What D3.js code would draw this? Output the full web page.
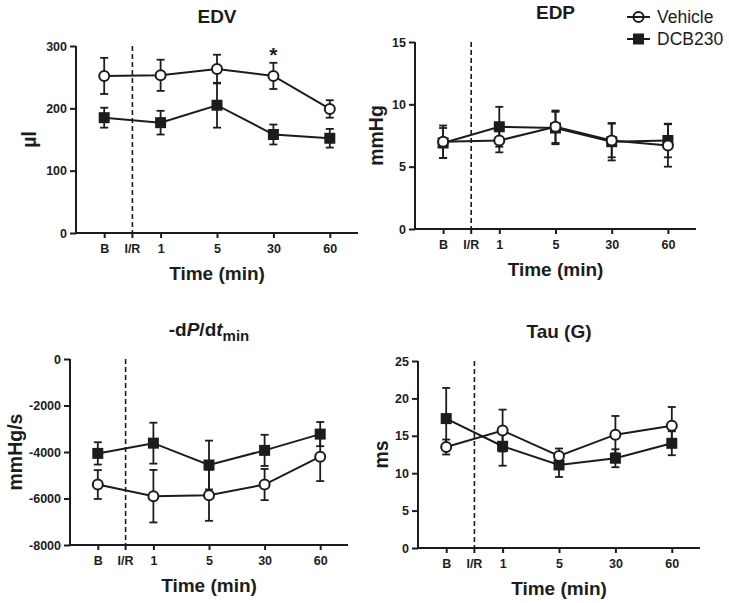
<!DOCTYPE html>
<html>
<head>
<meta charset="utf-8">
<script src="https://cdn.jsdelivr.net/npm/d3@7"></script>
<style>
  html, body { margin: 0; padding: 0; background: #fff; }
  svg { display: block; font-family: "Liberation Sans", Arial, Helvetica, sans-serif; }
</style>
</head>
<body>
<svg id="chart" width="729" height="603"></svg>
<script>
// ---------- data ----------
const timePoints = ["B", "1", "5", "30", "60"];
const irLabel = "I/R";
const seriesNames = ["Vehicle", "DCB230"];
const xTitle = "Time (min)";

const edvVehicle = [252, 253, 263, 252, 199];
const edvVehicleSem = [29, 25, 23, 21, 14];
const edvDcb = [185, 177, 205, 158, 152];
const edvDcbSem = [16, 19, 36, 16, 15];
const edvTicks = [0, 100, 200, 300];

const edpVehicle = [7.0, 7.1, 8.2, 7.1, 6.7];
const edpVehicleSem = [1.3, 0.95, 1.3, 1.35, 1.7];
const edpDcb = [6.9, 8.2, 8.1, 7.0, 7.1];
const edpDcbSem = [1.2, 1.6, 1.3, 1.5, 1.35];
const edpTicks = [0, 5, 10, 15];

const dpdtVehicle = [-5400, -5900, -5860, -5400, -4200];
const dpdtVehicleSem = [620, 1130, 1100, 670, 1050];
const dpdtDcb = [-4060, -3620, -4560, -3930, -3230];
const dpdtDcbSem = [480, 880, 1050, 670, 520];
const dpdtTicks = [0, -2000, -4000, -6000, -8000];

const tauVehicle = [13.5, 15.7, 12.3, 15.15, 16.35];
const tauVehicleSem = [1.0, 2.8, 1.0, 2.5, 2.5];
const tauDcb = [17.3, 13.6, 11.1, 12.0, 14.0];
const tauDcbSem = [4.1, 2.6, 1.6, 1.2, 1.6];
const tauTicks = [0, 5, 10, 15, 20, 25];

// ---------- drawing ----------
const INK = "#1c1c1c";
const svg = d3.select("#chart");

function drawPanel(cfg) {
  const g = svg.append("g");
  const x = d3.scalePoint().domain(timePoints).range([cfg.l, cfg.r]).padding(0.5);
  const y = d3.scaleLinear().domain(cfg.domain).range([cfg.b, cfg.t]);
  const irX = (x(timePoints[0]) + x(timePoints[1])) / 2;

  // y axis
  const ya = g.append("g").attr("transform", `translate(${cfg.l},0)`)
    .call(d3.axisLeft(y).tickValues(cfg.ticks).tickSize(6).tickPadding(3).tickFormat(d => String(d)));
  // x axis
  const xa = g.append("g").attr("transform", `translate(0,${cfg.b})`)
    .call(d3.axisBottom(x).tickSize(5).tickPadding(6));
  xa.append("line").attr("x1", irX).attr("x2", irX).attr("y1", 0).attr("y2", 5);
  xa.append("text").attr("x", irX).attr("y", 11).attr("dy", "0.71em").attr("text-anchor", "middle").text(irLabel);

  [ya, xa].forEach(a => {
    a.select(".domain").attr("stroke", INK).attr("stroke-width", 2);
    a.selectAll("line").attr("stroke", INK).attr("stroke-width", 2);
    a.selectAll("text").attr("fill", INK).attr("font-size", 12.5).attr("font-weight", "bold")
      .attr("font-family", "'Liberation Sans', Arial, sans-serif");
  });
  xa.select(".domain").attr("d", `M${cfg.l},0H${cfg.r}`);
  ya.select(".domain").attr("d", `M0,${cfg.t}V${cfg.b}`);

  // dashed I/R line
  g.append("line").attr("x1", irX).attr("x2", irX).attr("y1", cfg.t).attr("y2", cfg.b)
    .attr("stroke", INK).attr("stroke-width", 1.6).attr("stroke-dasharray", "5,3");

  const line = d3.line().x((d, i) => x(timePoints[i])).y(d => y(d));

  const series = [
    { vals: cfg.dcb, sem: cfg.dcbSem, type: "square" },
    { vals: cfg.veh, sem: cfg.vehSem, type: "circle" }
  ];
  series.forEach(s => {
    g.append("path").datum(s.vals).attr("d", line).attr("fill", "none")
      .attr("stroke", INK).attr("stroke-width", 2);
  });
  const cap = 4;
  series.forEach(s => {
    const eb = g.append("g").attr("stroke", INK).attr("stroke-width", 1.8);
    s.vals.forEach((v, i) => {
      const cx = x(timePoints[i]);
      const y1 = y(v + s.sem[i]), y2 = y(v - s.sem[i]);
      eb.append("line").attr("x1", cx).attr("x2", cx).attr("y1", y1).attr("y2", y2);
      eb.append("line").attr("x1", cx - cap).attr("x2", cx + cap).attr("y1", y1).attr("y2", y1);
      eb.append("line").attr("x1", cx - cap).attr("x2", cx + cap).attr("y1", y2).attr("y2", y2);
    });
  });
  series.forEach(s => {
    if (s.type === "square") {
      g.selectAll(null).data(s.vals).enter().append("rect")
        .attr("x", (d, i) => x(timePoints[i]) - 5.5).attr("y", d => y(d) - 5.5)
        .attr("width", 11).attr("height", 11).attr("fill", INK);
    } else {
      g.selectAll(null).data(s.vals).enter().append("circle")
        .attr("cx", (d, i) => x(timePoints[i])).attr("cy", d => y(d)).attr("r", 5)
        .attr("fill", "#fff").attr("stroke", INK).attr("stroke-width", 2);
    }
  });

  const cx = (cfg.l + cfg.r) / 2;
  const title = g.append("text").attr("x", cx).attr("y", cfg.t - 23).attr("text-anchor", "middle")
    .attr("font-size", 19).attr("font-weight", "bold").attr("fill", INK);
  cfg.title(title);
  g.append("text").attr("x", cx).attr("y", cfg.b + 47).attr("text-anchor", "middle")
    .attr("font-size", 19).attr("font-weight", "bold").attr("fill", INK).text(xTitle);
  g.append("text").attr("transform", `translate(${cfg.l - cfg.yOff},${(cfg.t + cfg.b) / 2}) rotate(-90)`)
    .attr("text-anchor", "middle").attr("dominant-baseline", "central")
    .attr("font-size", 19.5).attr("font-weight", "bold").attr("fill", INK).text(cfg.yLabel);

  return { x, y };
}

const p1 = drawPanel({
  l: 76, r: 358, t: 46, b: 233, domain: [0, 300], ticks: edvTicks,
  veh: edvVehicle, vehSem: edvVehicleSem, dcb: edvDcb, dcbSem: edvDcbSem,
  title: t => t.text("EDV"), yLabel: "µl", yOff: 47
});
svg.append("text").attr("x", p1.x("30")).attr("y", p1.y(edvVehicle[3] + edvVehicleSem[3]) - 1)
  .attr("text-anchor", "middle").attr("font-size", 21).attr("font-weight", "bold")
  .attr("fill", INK).text("*");

drawPanel({
  l: 415, r: 696, t: 42, b: 229, domain: [0, 15], ticks: edpTicks,
  veh: edpVehicle, vehSem: edpVehicleSem, dcb: edpDcb, dcbSem: edpDcbSem,
  title: t => t.text("EDP"), yLabel: "mmHg", yOff: 39
});

drawPanel({
  l: 70, r: 348, t: 359, b: 545, domain: [-8000, 0], ticks: dpdtTicks,
  veh: dpdtVehicle, vehSem: dpdtVehicleSem, dcb: dpdtDcb, dcbSem: dpdtDcbSem,
  title: t => {
    t.append("tspan").text("-d");
    t.append("tspan").attr("font-style", "italic").text("P");
    t.append("tspan").text("/d");
    t.append("tspan").attr("font-style", "italic").text("t");
    t.append("tspan").attr("font-size", 15).attr("dy", 5).text("min");
  },
  yLabel: "mmHg/s", yOff: 55
});

drawPanel({
  l: 418, r: 700, t: 361, b: 548, domain: [0, 25], ticks: tauTicks,
  veh: tauVehicle, vehSem: tauVehicleSem, dcb: tauDcb, dcbSem: tauDcbSem,
  title: t => t.text("Tau (G)"), yLabel: "ms", yOff: 37
});

// legend
const lg = svg.append("g");
seriesNames.forEach((name, i) => {
  const cy = 17 + i * 22;
  lg.append("line").attr("x1", 627).attr("x2", 650).attr("y1", cy).attr("y2", cy)
    .attr("stroke", INK).attr("stroke-width", 2);
  if (i === 0) {
    lg.append("circle").attr("cx", 638.5).attr("cy", cy).attr("r", 5)
      .attr("fill", "none").attr("stroke", INK).attr("stroke-width", 2);
  } else {
    lg.append("rect").attr("x", 633).attr("y", cy - 5.5).attr("width", 11).attr("height", 11).attr("fill", INK);
  }
  lg.append("text").attr("x", 657).attr("y", cy + 6).attr("font-size", 17.5).attr("fill", INK).text(name);
});
</script>
</body>
</html>
